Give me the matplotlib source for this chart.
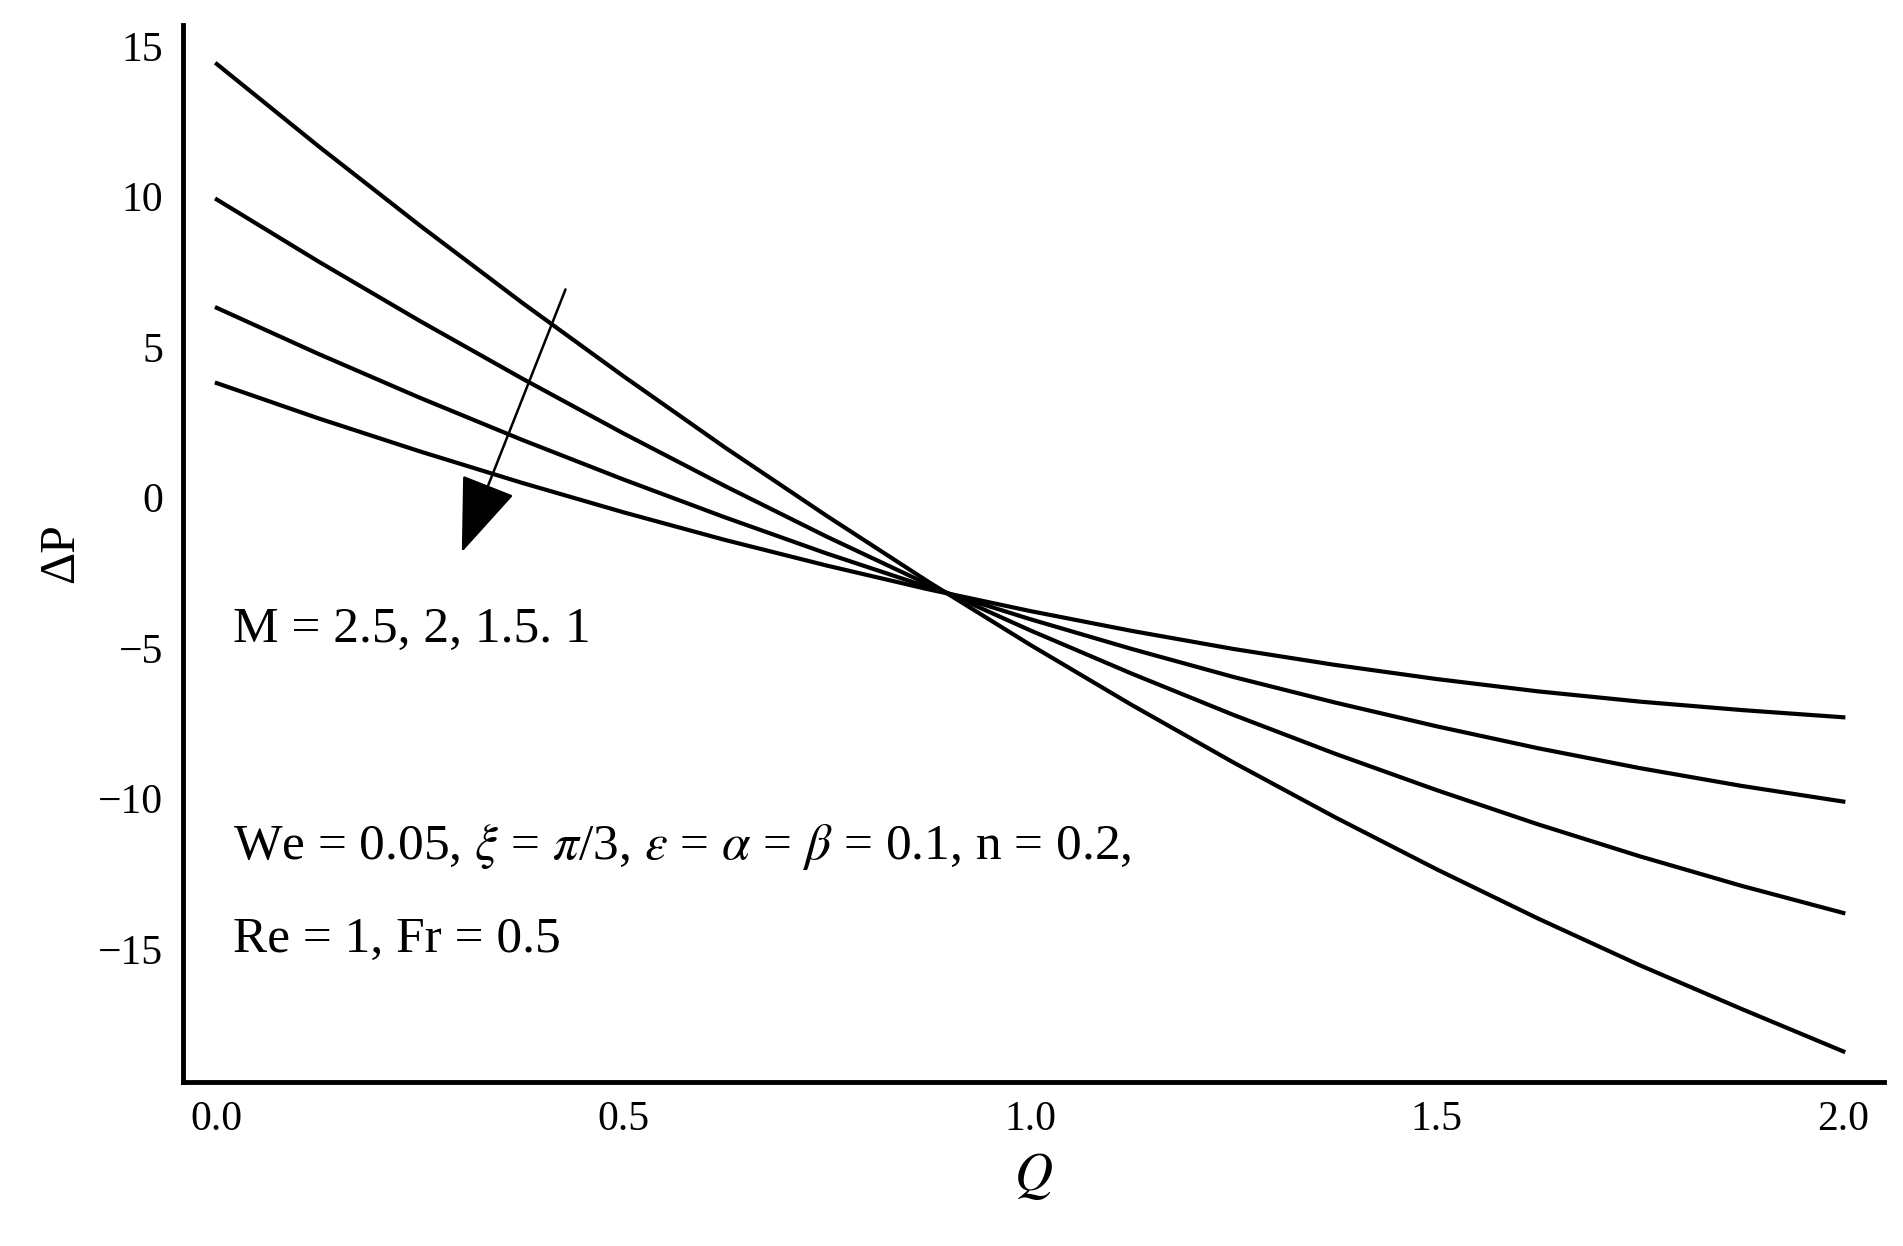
import numpy as np
import matplotlib
matplotlib.use("Agg")
import matplotlib.pyplot as plt

plt.rcParams.update({"font.family": "Liberation Serif", "mathtext.fontset": "stix", "font.size": 30})

Q = [0.0, 0.125, 0.25, 0.375, 0.5, 0.625, 0.75, 0.875, 1.0,
     1.125, 1.25, 1.375, 1.5, 1.625, 1.75, 1.875, 2.0]
dp_M25 = [14.4, 11.67, 9.03, 6.48, 4.03, 1.66, -0.61, -2.80, -4.89,
          -6.89, -8.8, -10.62, -12.35, -13.99, -15.54, -16.99, -18.4]
dp_M2 = [9.9, 7.84, 5.86, 3.96, 2.13, 0.38, -1.3, -2.89, -4.41,
         -5.85, -7.22, -8.51, -9.72, -10.86, -11.92, -12.9, -13.8]
dp_M15 = [6.3, 4.77, 3.31, 1.92, 0.6, -0.66, -1.86, -2.98, -4.04,
          -5.03, -5.96, -6.81, -7.6, -8.33, -8.99, -9.58, -10.1]
dp_M1 = [3.8, 2.63, 1.53, 0.49, -0.49, -1.41, -2.26, -3.05, -3.77,
         -4.43, -5.03, -5.56, -6.03, -6.44, -6.78, -7.06, -7.3]

fig = plt.figure(figsize=(19.03, 12.46), dpi=100)
ax = fig.add_axes([0.096, 0.132, 0.894, 0.848])
for ys in (dp_M25, dp_M2, dp_M15, dp_M1):
    ax.plot(Q, ys, color="k", lw=3)

ax.set_xlim(-0.042, 2.05)
ax.set_ylim(-19.4, 15.7)
ax.set_xticks([0.0, 0.5, 1.0, 1.5, 2.0])
ax.set_xticklabels(["0.0", "0.5", "1.0", "1.5", "2.0"])
ax.set_yticks([15, 10, 5, 0, -5, -10, -15])
ax.set_yticklabels(["15", "10", "5", "0", "\u22125", "\u221210", "\u221215"])
ax.tick_params(length=0, pad=14, labelsize=30)
for s in ("top", "right"):
    ax.spines[s].set_visible(False)
for s in ("left", "bottom"):
    ax.spines[s].set_linewidth(3.5)
ax.set_xlabel("$Q$", fontsize=38, labelpad=8)
ax.set_ylabel("\u0394P", fontsize=36, labelpad=10)

ax.annotate("", xy=(0.30, -1.9), xytext=(0.43, 7.0),
            arrowprops=dict(arrowstyle="-|>,head_length=1.6,head_width=0.6", color="k", lw=1.8))
ax.text(0.02, -4.4, "M = 2.5, 2, 1.5. 1", fontsize=37, va="center")
ax.text(0.02, -11.6, r"We = 0.05, $\xi$ = $\pi$/3, $\varepsilon$ = $\alpha$ = $\beta$ = 0.1, n = 0.2,",
        fontsize=37, va="center")
ax.text(0.02, -14.7, "Re = 1, Fr = 0.5", fontsize=37, va="center")

fig.savefig("out.png", dpi=100)
